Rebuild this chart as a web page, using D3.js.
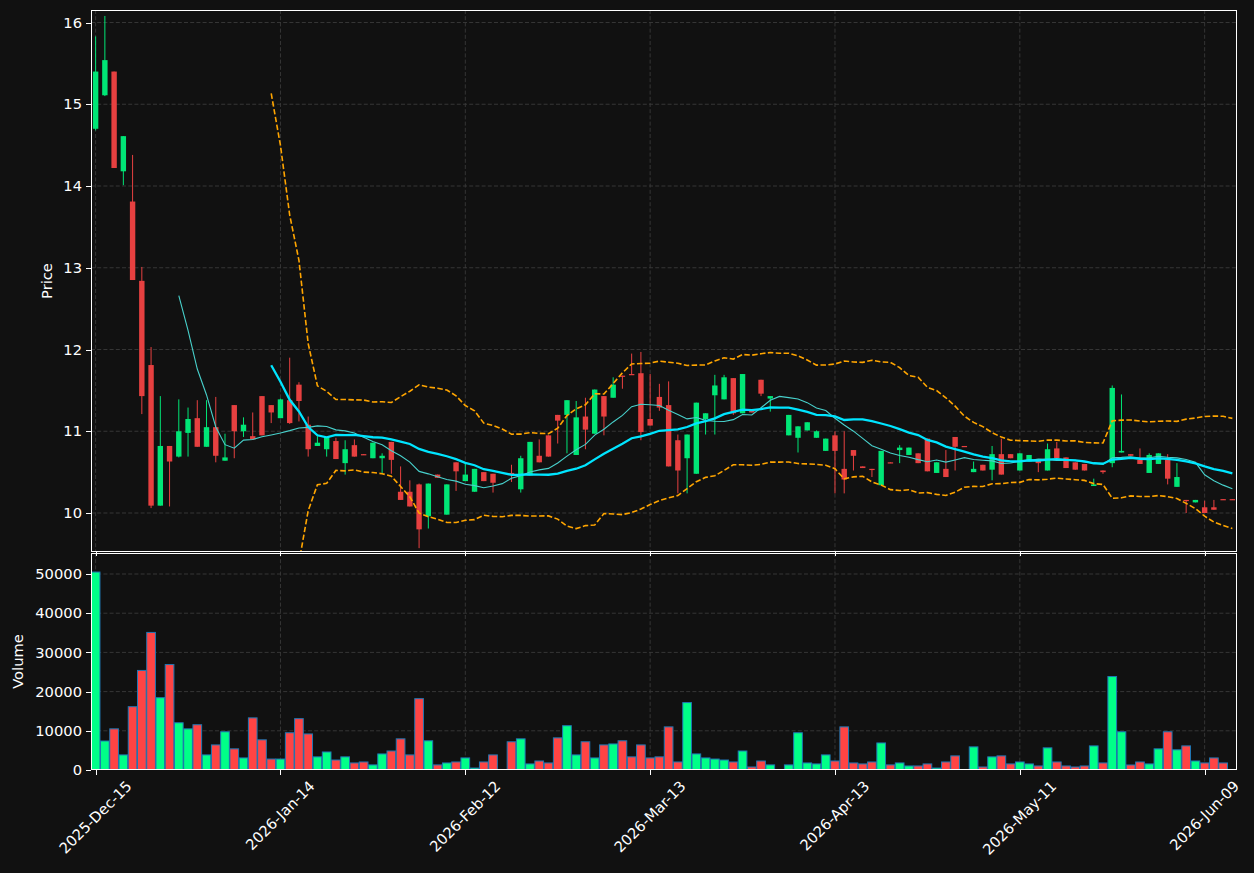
<!DOCTYPE html>
<html><head><meta charset="utf-8">
<script src="https://cdn.jsdelivr.net/npm/d3@7"></script>
<style>
body{margin:0;background:#111111;}
svg{display:block;}
text{font-family:"DejaVu Sans",sans-serif;}
</style>
</head><body>
<svg id="chart" width="1254" height="873"></svg>
<script>
// ---------------- data ----------------
const openP = [14.70,15.11,15.40,14.18,13.81,12.84,11.81,10.09,10.82,10.69,
 10.98,11.16,10.81,11.05,10.64,11.32,11.00,10.94,11.43,11.32,
 11.16,11.38,11.57,11.08,10.82,10.78,10.88,10.61,10.83,10.72,
 10.67,10.67,10.87,10.26,10.26,10.35,9.96,10.47,9.98,10.62,
 10.39,10.26,10.50,10.48,10.37,10.49,10.29,10.46,10.70,10.95,
 11.20,11.20,10.71,11.18,10.97,11.43,11.41,11.68,11.70,11.71,
 11.15,11.42,11.32,10.89,10.67,10.48,11.15,11.44,11.39,11.65,
 11.22,11.25,11.63,11.40,11.43,10.95,10.92,11.01,10.92,10.76,
 10.95,10.54,10.77,10.57,10.54,10.34,10.62,10.77,10.71,10.73,
 10.91,10.49,10.54,10.93,10.82,10.50,10.59,10.53,10.72,10.72,
 10.52,10.63,10.66,10.52,10.79,10.68,10.62,10.60,10.33,10.52,
 10.61,10.74,10.72,10.65,10.49,10.60,10.65,10.32,10.16,10.13,
 10.07,10.07,10.17,10.17];
const highP = [15.83,16.08,15.40,14.61,14.38,13.01,12.03,11.43,10.82,11.39,
 11.29,11.38,11.38,11.42,10.97,11.32,11.17,11.23,11.43,11.32,
 11.40,11.90,11.60,11.18,10.94,10.93,10.92,10.89,10.90,10.72,
 10.86,10.73,10.87,10.57,10.40,10.36,10.36,10.47,10.35,10.62,
 10.60,10.54,10.50,10.48,10.37,10.59,10.70,10.87,10.90,10.95,
 11.20,11.38,11.37,11.41,11.51,11.43,11.66,11.68,11.95,11.97,
 11.70,11.58,11.61,10.96,10.96,11.35,11.22,11.69,11.69,11.65,
 11.70,11.25,11.63,11.43,11.43,11.20,11.06,11.11,11.01,10.91,
 11.00,11.00,10.77,10.57,10.54,10.76,10.62,10.83,10.80,10.73,
 10.91,10.62,10.77,10.93,10.82,10.63,10.59,10.82,10.91,10.72,
 10.73,10.71,10.66,10.85,10.87,10.68,10.62,10.60,10.42,10.52,
 11.56,11.45,10.72,10.79,10.73,10.73,10.72,10.61,10.16,10.16,
 10.15,10.16,10.17,10.17];
const lowP = [14.68,15.10,14.22,14.01,12.85,11.21,10.06,10.09,10.08,10.68,
 10.69,10.81,10.81,10.62,10.64,10.67,10.93,10.90,10.95,11.10,
 11.16,11.09,11.12,10.69,10.82,10.69,10.66,10.47,10.69,10.71,
 10.67,10.48,10.48,10.16,10.08,9.57,9.81,10.43,9.98,10.27,
 10.39,10.26,10.39,10.25,10.37,10.38,10.25,10.46,10.62,10.69,
 10.85,10.73,10.71,10.78,10.97,10.95,11.41,11.52,11.69,10.89,
 11.07,11.25,10.57,10.24,10.24,10.48,10.96,10.96,11.39,11.20,
 11.22,11.23,11.43,11.24,11.43,10.95,10.74,11.01,10.92,10.76,
 10.24,10.24,10.52,10.55,10.44,10.34,10.61,10.61,10.71,10.61,
 10.51,10.49,10.44,10.52,10.81,10.50,10.52,10.40,10.47,10.67,
 10.52,10.63,10.50,10.52,10.67,10.55,10.53,10.52,10.33,10.48,
 10.56,10.74,10.70,10.60,10.49,10.60,10.35,10.32,10.00,10.13,
 10.00,10.04,10.16,10.16];
const closeP = [15.40,15.54,14.22,14.61,12.85,11.43,10.09,10.82,10.63,11.00,
 11.15,10.81,11.05,10.70,10.68,11.00,11.08,10.90,10.95,11.23,
 11.39,11.10,11.37,10.78,10.86,10.93,10.66,10.78,10.69,10.71,
 10.86,10.70,10.65,10.16,10.08,9.80,10.36,10.43,10.35,10.51,
 10.47,10.54,10.39,10.37,10.37,10.47,10.67,10.87,10.62,10.69,
 11.13,11.38,11.17,11.02,11.51,11.18,11.57,11.67,11.69,10.99,
 11.07,11.29,10.57,10.52,10.96,11.35,11.22,11.56,11.66,11.22,
 11.70,11.23,11.46,11.43,11.43,11.20,11.06,11.11,11.00,10.91,
 10.76,10.41,10.70,10.55,10.53,10.76,10.61,10.80,10.80,10.61,
 10.51,10.62,10.44,10.81,10.81,10.54,10.52,10.72,10.47,10.67,
 10.73,10.71,10.61,10.78,10.67,10.55,10.53,10.52,10.35,10.50,
 11.53,10.76,10.70,10.60,10.71,10.73,10.42,10.44,10.15,10.16,
 10.00,10.04,10.16,10.16];
const volume = [50500,7400,10500,3850,16150,25400,35100,18450,26900,12050,
 10500,11550,3850,6400,9750,5400,3080,13300,7700,2800,
 2800,9500,13100,9200,3350,4600,2550,3350,1800,2050,
 1300,4100,4850,7950,3850,18200,7450,1300,1800,2050,
 3080,500,2050,3850,0,7200,7950,1550,2300,1800,
 8200,11300,3850,7200,3080,6400,6650,7450,3350,6400,
 3080,3350,11000,2050,17200,4100,3080,2800,2550,2050,
 4850,770,2300,1300,0,1300,9500,1800,1550,3850,
 2300,11000,1800,1550,2050,6900,1300,1800,1030,1030,
 1550,500,2050,3600,0,5900,770,3350,3600,1550,
 2050,1550,1030,5650,2050,1030,770,1030,6150,1800,
 23850,9750,1280,2050,1550,5400,9750,5150,6150,2300,
 1800,3080,1800,0];
const tickIndex = [0,20,40,60,80,100,120];
const tickLabels = ["2025-Dec-15","2026-Jan-14","2026-Feb-12","2026-Mar-13","2026-Apr-13","2026-May-11","2026-Jun-09"];
const priceTicks = [10,11,12,13,14,15,16];
const volumeTicks = [0,10000,20000,30000,40000,50000];
const maShortLen = 10, maLongLen = 20, bbLen = 20, bbMult = 2;

// ---------------- derived indicators ----------------
function sma(arr, n){ return arr.map((v,i)=> i < n-1 ? null : d3.mean(arr.slice(i-n+1, i+1))); }
function bollinger(arr, n, k){
  return arr.map((v,i)=>{
    if(i < n-1) return null;
    const w = arr.slice(i-n+1, i+1), m = d3.mean(w);
    const sd = Math.sqrt(d3.mean(w, d => (d-m)*(d-m)));
    return {i, up: m + k*sd, lo: m - k*sd};
  });
}
const maShort = sma(closeP, maShortLen);
const maLong = sma(closeP, maLongLen);
const bb = bollinger(closeP, bbLen, bbMult);

// ---------------- layout ----------------
const N = closeP.length;
const L = 91, R = 1237, PT = 10, PB = 552, VT = 553, VB = 770;
const UP = "#00e676", DOWN = "#e74040", VUP = "#00ff88", VDOWN = "#ff4444";
const GRID = "#3a3a3a";
const FS = "14.7px";

const svg = d3.select("#chart");
svg.append("rect").attr("width",1254).attr("height",873).attr("fill","#111111");

const x = d3.scaleLinear().domain([-0.5, N-0.5]).range([L, R]);
const step = x(1) - x(0);
const yP = d3.scaleLinear().domain([9.523, 16.153]).range([PB, PT]);
const yV = d3.scaleLinear().domain([0, 55360]).range([VB, VT]);

const defs = svg.append("defs");
defs.append("clipPath").attr("id","clipP").append("rect").attr("x",L).attr("y",PT).attr("width",R-L).attr("height",PB-PT);
defs.append("clipPath").attr("id","clipV").append("rect").attr("x",L).attr("y",VT).attr("width",R-L).attr("height",VB-VT);

// grids
const grid = svg.append("g").attr("stroke",GRID).attr("stroke-width",0.9).attr("stroke-dasharray","4,2.2");
grid.selectAll(".gpy").data(priceTicks).join("line").attr("x1",L).attr("x2",R).attr("y1",d=>yP(d)).attr("y2",d=>yP(d));
grid.selectAll(".gvy").data(volumeTicks.slice(1)).join("line").attr("x1",L).attr("x2",R).attr("y1",d=>yV(d)).attr("y2",d=>yV(d));
grid.selectAll(".gpx").data(tickIndex).join("line").attr("x1",d=>x(d)).attr("x2",d=>x(d)).attr("y1",PT).attr("y2",PB);
grid.selectAll(".gvx").data(tickIndex).join("line").attr("x1",d=>x(d)).attr("x2",d=>x(d)).attr("y1",VT).attr("y2",VB);

// volume bars
const idx = d3.range(N);
svg.append("g").attr("clip-path","url(#clipV)").selectAll("rect").data(idx.filter(i=>volume[i]>0)).join("rect")
  .attr("x", i => x(i) - step*0.47).attr("width", step*0.94)
  .attr("y", i => yV(volume[i])).attr("height", i => yV(0) - yV(volume[i]))
  .attr("fill", i => closeP[i] >= openP[i] ? VUP : VDOWN)
  .attr("stroke","#1f77b4").attr("stroke-width",1);

// candles
const cg = svg.append("g").attr("clip-path","url(#clipP)");
cg.selectAll("line").data(idx.filter(i=>highP[i]>lowP[i])).join("line")
  .attr("x1", i=>x(i)).attr("x2", i=>x(i))
  .attr("y1", i=>yP(highP[i])).attr("y2", i=>yP(lowP[i]))
  .attr("stroke", i => closeP[i] >= openP[i] ? UP : DOWN).attr("stroke-width",1);
const bw = 5.4;
cg.selectAll("rect").data(idx.filter(i=>openP[i]!==closeP[i])).join("rect")
  .attr("x", i=>x(i)-bw/2).attr("width", bw)
  .attr("y", i=>Math.min(yP(openP[i]), yP(closeP[i])))
  .attr("height", i=>Math.max(1.2, Math.abs(yP(openP[i]) - yP(closeP[i]))))
  .attr("fill", i => closeP[i] >= openP[i] ? UP : DOWN);

// indicator lines
const lg = svg.append("g").attr("clip-path","url(#clipP)").attr("fill","none");
const lineOf = acc => d3.line().defined((d,i)=>acc(d,i)!=null).x((d,i)=>x(i)).y((d,i)=>yP(acc(d,i)));
lg.append("path").datum(bb).attr("d", lineOf(d=>d?d.up:null)).attr("stroke","#ffa500").attr("stroke-width",1.6).attr("stroke-dasharray","5.5,2.4");
lg.append("path").datum(bb).attr("d", lineOf(d=>d?d.lo:null)).attr("stroke","#ffa500").attr("stroke-width",1.6).attr("stroke-dasharray","5.5,2.4");
lg.append("path").datum(maShort).attr("d", lineOf(d=>d)).attr("stroke","#48d1cc").attr("stroke-width",1.1);
lg.append("path").datum(maLong).attr("d", lineOf(d=>d)).attr("stroke","#00e5ff").attr("stroke-width",2.3);

// axes
function styleAxis(g){
  g.select(".domain").remove();
  g.selectAll(".tick line").attr("stroke","#ffffff").attr("shape-rendering","crispEdges");
  g.selectAll(".tick text").attr("fill","#ffffff").attr("font-size",FS);
}
svg.append("g").attr("transform",`translate(${L},0)`)
  .call(d3.axisLeft(yP).tickValues(priceTicks).tickSize(5).tickPadding(4).tickFormat(d3.format("d"))).call(styleAxis);
svg.append("g").attr("transform",`translate(${L},0)`)
  .call(d3.axisLeft(yV).tickValues(volumeTicks).tickSize(5).tickPadding(4).tickFormat(d3.format("d"))).call(styleAxis);
const xa = svg.append("g").attr("transform",`translate(0,${VB})`)
  .call(d3.axisBottom(x).tickValues(tickIndex).tickSize(5).tickFormat((d,i)=>tickLabels[i])).call(styleAxis);
xa.selectAll(".tick text").each(function(){
  const t = d3.select(this);
  const len = this.getComputedTextLength();
  const H = 0.7071*(len + 15);
  t.attr("text-anchor","middle").attr("dy",null).attr("y",null).attr("dominant-baseline","central")
   .attr("transform",`translate(-1,${8 + H/2}) rotate(-45)`);
});
svg.append("g").attr("transform",`translate(0,${PB})`)
  .call(d3.axisBottom(x).tickValues(tickIndex).tickSize(4).tickFormat("")).call(styleAxis);

// frames
svg.append("rect").attr("x",L+0.5).attr("y",PT+0.5).attr("width",R-L-1).attr("height",PB-PT-1).attr("fill","none").attr("stroke","#ffffff").attr("stroke-width",1);
svg.append("rect").attr("x",L+0.5).attr("y",VT+0.5).attr("width",R-L-1).attr("height",VB-VT-1).attr("fill","none").attr("stroke","#ffffff").attr("stroke-width",1);

// axis titles
svg.append("text").attr("transform",`translate(52,${(PT+PB)/2}) rotate(-90)`).attr("text-anchor","middle")
  .attr("fill","#ffffff").attr("font-size",FS).text("Price");
svg.append("text").attr("transform",`translate(23,${(VT+VB)/2}) rotate(-90)`).attr("text-anchor","middle")
  .attr("fill","#ffffff").attr("font-size",FS).text("Volume");
</script>
</body></html>
